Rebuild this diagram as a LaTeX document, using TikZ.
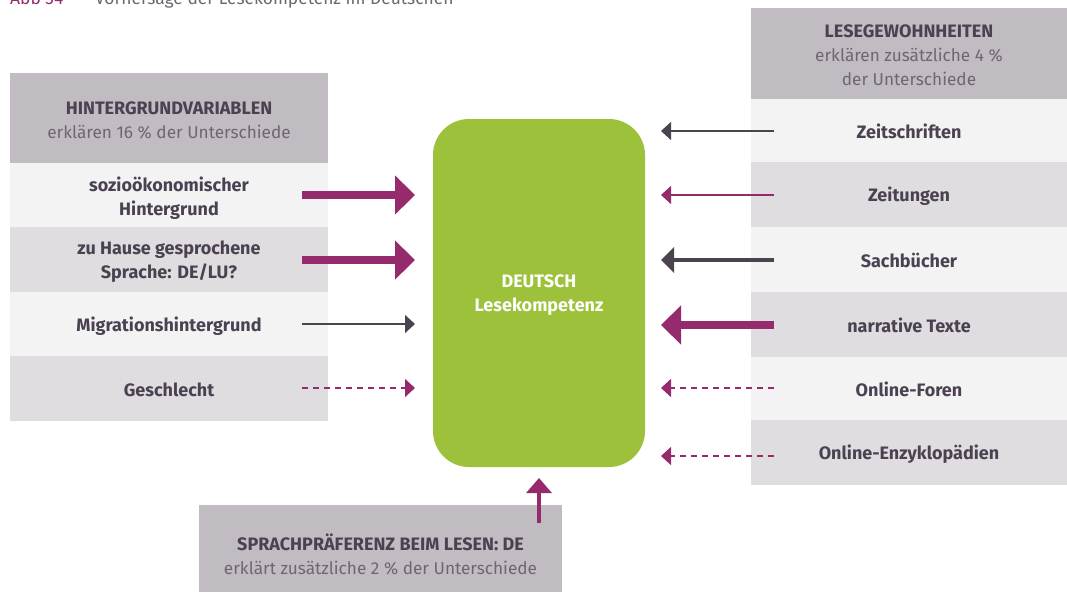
\documentclass[tikz,border=0pt]{standalone}
\usepackage{fontspec}
\setmainfont{Fira Sans}
\usetikzlibrary{arrows.meta}
\definecolor{mag}{HTML}{952B6C}
\definecolor{dk}{HTML}{4B4350}
\definecolor{txt}{HTML}{4B4150}
\definecolor{gtxt}{HTML}{6E6671}
\definecolor{hdr}{HTML}{C1BBC2}
\definecolor{lrow}{HTML}{F3F3F3}
\definecolor{drow}{HTML}{DFDDE0}
\definecolor{grn}{HTML}{9DC13B}
\newcommand{\lighttxt}{\fontsize{17.2}{24}\selectfont\mdseries\color{gtxt}}
\tikzset{
  box/.style={inner sep=0pt, outer sep=0pt, align=center, text=txt,
    font=\fontsize{18}{24}\selectfont\bfseries},
  lrowbox/.style={box, fill=lrow},
  drowbox/.style={box, fill=drow},
  hdrbox/.style={box, fill=hdr},
  thickarr/.style={draw=mag, line width=8pt, -{Triangle[length=20pt,width=38pt]}},
  medarr/.style={draw=dk, line width=4pt, -{Triangle[length=13pt,width=25pt]}},
  thinarr/.style={line width=1.6pt, -{Triangle[length=10pt,width=18pt]}},
  dasharr/.style={thinarr, draw=mag, dash pattern=on 6pt off 5pt},
}
\begin{document}
\begin{tikzpicture}[x=1pt,y=-1pt]
\useasboundingbox (0,0) rectangle (1067,592);
% caption (cut at top, as in the reference)
\node[anchor=base west, inner sep=0, text=mag, font=\fontsize{17.4}{20}\selectfont] (cap1) at (10,4) {Abb 34};
\node[anchor=base west, inner sep=0, text=gtxt, font=\fontsize{17.4}{20}\selectfont] (cap2) at (95,4) {Vorhersage der Lesekompetenz im Deutschen};
% left panel
\node[hdrbox, minimum width=318, minimum height=90] (lh) at (169,118) {};
\node[box] (lht) at (169,120) {HINTERGRUNDVARIABLEN\\{\lighttxt erklären 16 \% der Unterschiede}};
\node[lrowbox, minimum width=318, minimum height=64, text depth=0pt] (l1) at (169,195) {};
\node[box] (l1t) at (169,198) {sozioökonomischer\\Hintergrund};
\node[drowbox, minimum width=318, minimum height=65] (l2) at (169,259.5) {};
\node[box] (l2t) at (169,262) {zu Hause gesprochene\\Sprache: DE/LU?};
\node[lrowbox, minimum width=318, minimum height=64] (l3) at (169,324) {};
\node[box] (l3t) at (169,326) {Migrationshintergrund};
\node[drowbox, minimum width=318, minimum height=65] (l4) at (169,388.5) {};
\node[box] (l4t) at (169,390) {Geschlecht};
% right panel
\node[hdrbox, minimum width=316, minimum height=91] (rh) at (909,53.5) {};
\node[box] (rht) at (909,55) {LESEGEWOHNHEITEN\\{\lighttxt erklären zusätzliche 4 \%}\\{\lighttxt der Unterschiede}};
\node[lrowbox, minimum width=316, minimum height=63] (r1) at (909,130.5) {};
\node[box] (r1t) at (909,131.5) {Zeitschriften};
\node[drowbox, minimum width=316, minimum height=65] (r2) at (909,194.5) {};
\node[box] (r2t) at (909,196) {Zeitungen};
\node[lrowbox, minimum width=316, minimum height=65] (r3) at (909,259.5) {};
\node[box] (r3t) at (909,260.5) {Sachbücher};
\node[drowbox, minimum width=316, minimum height=65] (r4) at (909,324.5) {};
\node[box] (r4t) at (909,325.5) {narrative Texte};
\node[lrowbox, minimum width=316, minimum height=63] (r5) at (909,388.5) {};
\node[box] (r5t) at (909,389.5) {Online-Foren};
\node[drowbox, minimum width=316, minimum height=65] (r6) at (909,452.5) {};
\node[box] (r6t) at (909,454) {Online-Enzyklopädien};
% bottom panel
\node[hdrbox, minimum width=363, minimum height=87] (bp) at (380.5,548.5) {};
\node[box] (bt) at (380.5,554) {SPRACHPRÄFERENZ BEIM LESEN: DE\\{\lighttxt erklärt zusätzliche 2 \% der Unterschiede}};
% central box
\node[fill=grn, rounded corners=36pt, minimum width=212, minimum height=348, inner sep=0, outer sep=0] (d) at (539,293) {};
\node[align=center, text=white, inner sep=0, font=\fontsize{18}{24}\selectfont\bfseries] (dt) at (539,295) {DEUTSCH\\Lesekompetenz};
% left arrows
\draw[thickarr, shorten >=18pt] ([xshift=-26pt]l1.east) -- (l1.east -| d.west);
\draw[thickarr, shorten >=18pt] ([xshift=-26pt]l2.east |- 0,260) -- (d.west |- 0,260);
\draw[thinarr, draw=dk, shorten >=18pt] ([xshift=-26pt]l3.east) -- (l3.east -| d.west);
\draw[dasharr, shorten >=18pt] ([xshift=-26pt]l4.east |- 0,388) -- (d.west |- 0,388);
% right arrows
\draw[thinarr, draw=dk, shorten >=16pt] ([xshift=23pt]r1.west |- 0,131) -- (d.east |- 0,131);
\draw[thinarr, draw=mag, shorten >=16pt] ([xshift=23pt]r2.west |- 0,195) -- (d.east |- 0,195);
\draw[medarr, shorten >=16pt] ([xshift=23pt]r3.west |- 0,260) -- (d.east |- 0,260);
\draw[thickarr, shorten >=16pt] ([xshift=23pt]r4.west |- 0,325) -- (d.east |- 0,325);
\draw[dasharr, shorten >=16pt] ([xshift=23pt]r5.west |- 0,388) -- (d.east |- 0,388);
\draw[dasharr, shorten >=16pt] ([xshift=23pt]r6.west |- 0,456) -- (d.east |- 0,456);
% bottom arrow
\draw[draw=mag, line width=3.5pt, -{Triangle[length=15pt,width=25pt]}, shorten >=11pt] (539,523) -- (d.south);
\end{tikzpicture}
\end{document}
